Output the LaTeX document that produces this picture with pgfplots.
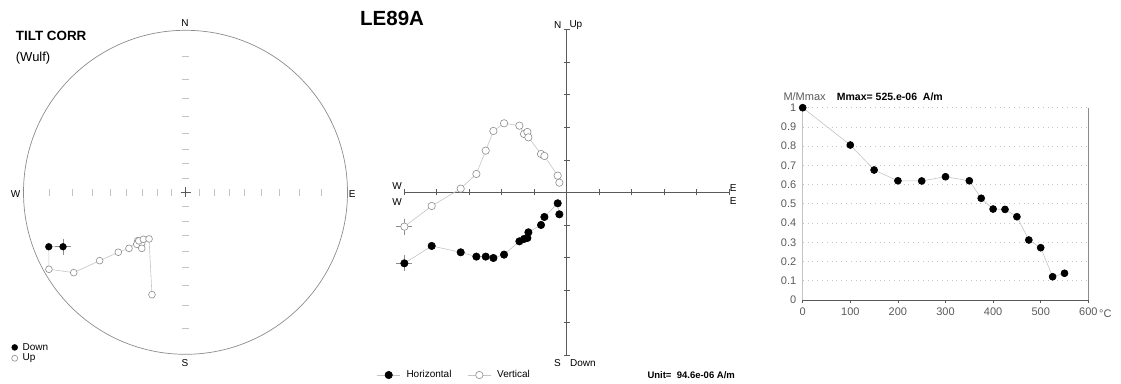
\documentclass[border=0pt]{standalone}
\usepackage{fontspec}
\setmainfont{Liberation Sans}
\usepackage{pgfplots}
\pgfplotsset{compat=1.18}
\definecolor{lgray}{HTML}{C4C4C4}
\definecolor{mgray}{HTML}{8C8C8C}
\definecolor{dgray}{HTML}{5A5A5A}
\newcommand{\fs}[1]{\fontsize{#1}{#1}\selectfont}
\pgfplotsset{
  dotlegend/.style={legend image code/.code={\draw[##1, mark size=3pt] plot coordinates {(0pt,0pt)};}},
  linelegend/.style={legend image code/.code={\draw[##1, mark repeat=2, mark phase=2] plot coordinates {(0pt,0pt) (11.5pt,0pt) (23pt,0pt)};}}
}
\begin{document}
\begin{tikzpicture}[x=1pt,y=1pt]
\useasboundingbox (0,0) rectangle (1121,383);
% ---------------- Stereonet ----------------
\draw[mgray, line width=0.7pt] (185.5,190.7) circle[radius=162];
\begin{axis}[at={(23.5pt,28.7pt)}, anchor=south west, scale only axis,
  width=324pt, height=324pt, xmin=-1, xmax=1, ymin=-1, ymax=1,
  axis lines=middle, axis line style={draw=none},
  xtick={-0.8391,-0.7002,-0.5774,-0.4663,-0.3640,-0.2679,-0.1763,-0.0875,0.0875,0.1763,0.2679,0.3640,0.4663,0.5774,0.7002,0.8391},
  ytick={-0.8391,-0.7002,-0.5774,-0.4663,-0.3640,-0.2679,-0.1763,-0.0875,0.0875,0.1763,0.2679,0.3640,0.4663,0.5774,0.7002,0.8391},
  xticklabels={}, yticklabels={}, tick align=center, major tick length=6.5pt,
  tick style={color=lgray, line width=0.7pt}, clip=false,
  legend style={at={(axis description cs:-0.037,-0.032)}, anchor=south west,
    draw=none, fill=none, inner sep=0pt, font=\fs{10}, row sep=-1.5pt},
  legend cell align=left]
\addplot[dgray, only marks, mark=+, mark size=5pt, mark options={line width=0.6pt}, forget plot] coordinates {(0,0)};
\addplot[lgray, line width=0.6pt, forget plot] coordinates {
(-0.756,-0.336) (-0.844,-0.336) (-0.843,-0.475) (-0.690,-0.496) (-0.530,-0.422)
(-0.415,-0.370) (-0.349,-0.346) (-0.295,-0.299) (-0.301,-0.321) (-0.270,-0.314)
(-0.288,-0.300) (-0.270,-0.346) (-0.260,-0.290) (-0.225,-0.288) (-0.207,-0.632)};
\addplot[only marks, mark=+, mark size=8pt, mgray, mark options={line width=0.5pt}, forget plot] coordinates {(-0.756,-0.336)};
\addplot[only marks, mark=*, mark size=3.4pt, mark options={draw=black, fill=black}, dotlegend] coordinates {(-0.756,-0.336) (-0.844,-0.336)};
\addlegendentry{\hspace{3pt}Down}
\addplot[only marks, mark=*, mark size=3.4pt, mark options={draw=mgray, fill=white, line width=0.6pt}, dotlegend] coordinates {
(-0.843,-0.475) (-0.690,-0.496) (-0.530,-0.422) (-0.415,-0.370) (-0.349,-0.346)
(-0.295,-0.299) (-0.301,-0.321) (-0.270,-0.314) (-0.288,-0.300) (-0.270,-0.346)
(-0.260,-0.290) (-0.225,-0.288) (-0.207,-0.632)};
\addlegendentry{\hspace{3pt}Up}
\end{axis}
\node[font=\fs{10}] at (185,359.7) {N};
\node[font=\fs{10}] at (185,20.3) {S};
\node[font=\fs{10}] at (15.7,189) {W};
\node[font=\fs{10}] at (352.3,189) {E};
\node[font=\bfseries\fs{13.4}, anchor=west, inner sep=0pt] at (15.7,347.3) {TILT CORR};
\node[font=\fs{13}, anchor=west, inner sep=0pt] at (15.7,324.7) {(Wulf)};
% ---------------- Zijderveld ----------------
\node[font=\bfseries\fs{20.5}, anchor=west, inner sep=0pt] at (360,364.7) {LE89A};
\begin{axis}[at={(404.2pt,28.2pt)}, anchor=south west, scale only axis,
  width=325pt, height=325pt, xmin=-5, xmax=5, ymin=-5, ymax=5,
  axis lines=middle, axis line style={-, draw=dgray, line width=0.6pt},
  xtick={-5,-4,-3,-2,-1,1,2,3,4,5}, ytick={-5,-4,-3,-2,-1,1,2,3,4,5},
  xticklabels={}, yticklabels={}, tick align=center, major tick length=6pt,
  tick style={color=dgray, line width=0.6pt}, clip=false,
  legend columns=2,
  legend style={at={(axis description cs:-0.0846,-0.0622)}, anchor=west,
    draw=none, fill=none, inner sep=0pt, font=\fs{10}, /tikz/every even column/.append style={column sep=14pt}},
  linelegend]
\addplot[only marks, mark=+, mark size=8pt, mgray, mark options={line width=0.5pt}, forget plot] coordinates {(-4.995,-2.185) (-4.995,-1.056)};
\addplot[lgray, line width=0.6pt, mark=*, mark size=3.7pt, mark options={draw=black, fill=black}] coordinates {
(-4.995,-2.185) (-4.154,-1.651) (-3.262,-1.846) (-2.779,-1.979) (-2.492,-1.979)
(-2.256,-2.021) (-1.928,-1.918) (-1.456,-1.508) (-1.313,-1.436) (-1.210,-1.405)
(-1.179,-1.231) (-0.790,-1.005) (-0.687,-0.759) (-0.277,-0.338) (-0.226,-0.677)};
\addlegendentry{\hspace{4pt}Horizontal}
\addplot[lgray, line width=0.6pt, mark=*, mark size=3.7pt, mark options={draw=mgray, fill=white, line width=0.6pt}] coordinates {
(-4.995,-1.056) (-4.154,-0.421) (-3.262,0.113) (-2.779,0.564) (-2.492,1.282)
(-2.256,1.887) (-1.928,2.123) (-1.456,2.051) (-1.313,1.795) (-1.210,1.856)
(-1.179,1.692) (-0.790,1.179) (-0.687,1.118) (-0.277,0.513) (-0.226,0.297)};
\addlegendentry{\hspace{4pt}Vertical}
\end{axis}
\node[font=\fs{10}] at (557.8,358) {N};
\node[font=\fs{10}, anchor=west, inner sep=0pt] at (569.3,358) {Up};
\node[font=\fs{10}] at (557.5,19.7) {S};
\node[font=\fs{10}, anchor=west, inner sep=0pt] at (570,19.7) {Down};
\node[font=\fs{10}] at (397.2,197.3) {W};
\node[font=\fs{10}] at (397.2,181) {W};
\node[font=\fs{10}] at (733.3,195.3) {E};
\node[font=\fs{10}] at (733.3,182) {E};
\node[font=\bfseries\fs{9.5}, anchor=west, inner sep=0pt] at (647.3,8) {Unit=\ \ 94.6e-06 A/m};
% ---------------- Demagnetisation ----------------
\begin{axis}[at={(802.7pt,83pt)}, anchor=south west, scale only axis,
  width=285.6pt, height=192.3pt, xmin=0, xmax=600, ymin=0, ymax=1,
  axis x line=bottom, axis y line=left,
  every outer x axis line/.append style={-, draw=dgray, line width=0.6pt},
  every outer y axis line/.append style={-, draw=lgray, line width=1.3pt},
  xtick={0,100,200,300,400,500,600}, ytick={0,0.1,0.2,0.3,0.4,0.5,0.6,0.7,0.8,0.9,1},
  ymajorgrids, grid style={dash pattern=on 0.8pt off 4pt, lgray, line width=0.7pt},
  tick align=outside, xtick style={dgray, line width=0.6pt}, major tick length=3pt,
  ytick style={draw=none},
  tick label style={font=\fs{11}, text=dgray},
  yticklabel style={/pgf/number format/fixed},
  xticklabel style={yshift=-1.5pt},
  /pgf/number format/assume math mode=true, clip=false]
\draw[mgray, line width=0.6pt] (axis cs:600,0) -- (axis cs:600,1);
\addplot[lgray, line width=0.6pt, mark=*, mark size=3.5pt, mark options={draw=black, fill=black}] coordinates {
(0,1.0) (100,0.806) (150,0.676) (200,0.620) (250,0.619) (300,0.641) (350,0.620)
(375,0.529) (400,0.473) (425,0.471) (450,0.433) (475,0.312) (500,0.272) (525,0.121) (550,0.139)};
\end{axis}
\node[font=\fs{11}, anchor=west, inner sep=0pt, text=dgray] at (1099,69.7) {°C};
\node[font=\fs{11}, anchor=west, inner sep=0pt, text=dgray] at (783.3,286.3) {M/Mmax};
\node[font=\bfseries\fs{10.5}, anchor=west, inner sep=0pt] at (836.7,286.3) {Mmax= 525.e-06\ \ A/m};
\end{tikzpicture}
\end{document}
